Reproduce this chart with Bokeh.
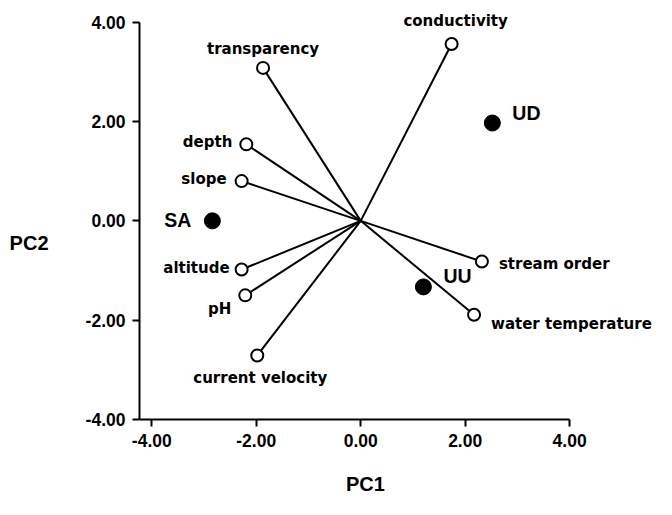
from bokeh.plotting import figure
from bokeh.models import Range1d, FixedTicker, NumeralTickFormatter, LinearAxis
from bokeh.core.properties import value
from bokeh.embed import file_html
from bokeh.resources import INLINE

# ---- data ----
variables = ["conductivity", "transparency", "depth", "slope", "altitude",
             "pH", "current velocity", "stream order", "water temperature"]
var_pc1 = [1.74, -1.87, -2.19, -2.28, -2.28, -2.21, -1.98, 2.32, 2.17]
var_pc2 = [3.56, 3.08, 1.54, 0.80, -0.98, -1.50, -2.71, -0.82, -1.89]

sites = ["UD", "SA", "UU"]
site_pc1 = [2.52, -2.84, 1.20]
site_pc2 = [1.97, 0.00, -1.33]

x_ticks = [-4, -2, 0, 2, 4]
y_ticks = [-4, -2, 0, 2, 4]
x_label = "PC1"
y_label = "PC2"

# ---- label placement (styling: pixel offsets from each point) ----
var_align = ["center", "center", "right", "right", "right", "right", "center", "left", "left"]
var_dx = [4, 0, -14, -15, -12, -14, 3, 17, 17]
var_dy = [-23, -19, -2, -2, -2, 14, 23, 2, 9]

site_align = ["left", "right", "left"]
site_dx = [20, -21, 20]
site_dy = [-10, -1, -11]

# where the axis titles sit (layout)
X_TITLE_AT = 0.09
Y_TITLE_AT = -0.44

TICK_FONT = "Liberation Sans"
LABEL_FONT = "DejaVu Sans"

p = figure(width=656, height=499,
           x_range=Range1d(-4.235, 5.663), y_range=Range1d(-4.0, 4.437),
           output_backend="svg", toolbar_location=None,
           min_border_left=139, min_border_bottom=80,
           min_border_top=0, min_border_right=0)
p.outline_line_color = None
p.xgrid.visible = False
p.ygrid.visible = False
p.background_fill_color = "white"
p.border_fill_color = "white"

for ax in (p.xaxis[0], p.yaxis[0]):
    ax.axis_line_width = 2
    ax.axis_line_color = "black"
    ax.major_tick_line_width = 2
    ax.major_tick_line_color = "black"
    ax.major_tick_in = 0
    ax.major_tick_out = 7
    ax.minor_tick_line_color = None
    ax.major_label_text_font = TICK_FONT
    ax.major_label_text_font_style = "bold"
    ax.major_label_text_font_size = "17.5px"
    ax.major_label_text_color = "black"
    ax.formatter = NumeralTickFormatter(format="0.00")

p.xaxis[0].ticker = FixedTicker(ticks=x_ticks)
p.yaxis[0].ticker = FixedTicker(ticks=y_ticks)
p.xaxis[0].bounds = (-4.235, 4)
p.yaxis[0].bounds = (-4, 4)
p.xaxis[0].major_label_standoff = 7
p.yaxis[0].major_label_standoff = 7

# axis titles, drawn as the single label of an extra, line-less axis
def title_axis(pos, text, standoff):
    a = LinearAxis(ticker=FixedTicker(ticks=[pos]),
                   major_label_overrides={pos: text},
                   axis_line_color=None, major_tick_line_color=None,
                   minor_tick_line_color=None, major_tick_out=0, major_tick_in=0,
                   major_label_standoff=standoff,
                   major_label_text_font=TICK_FONT,
                   major_label_text_font_style="bold",
                   major_label_text_font_size="20px",
                   major_label_text_color="black")
    return a

p.add_layout(title_axis(X_TITLE_AT, x_label, 23), "below")
p.add_layout(title_axis(Y_TITLE_AT, y_label, 34), "left")

# vectors
p.segment(x0=[0] * len(var_pc1), y0=[0] * len(var_pc2), x1=var_pc1, y1=var_pc2,
          line_color="black", line_width=2)
p.scatter(var_pc1, var_pc2, marker="circle", size=12, fill_color="white",
          line_color="black", line_width=2)
# sites
p.scatter(site_pc1, site_pc2, marker="circle", size=16, fill_color="black",
          line_color="black")

for name, x, y, al, dx, dy in zip(variables, var_pc1, var_pc2, var_align, var_dx, var_dy):
    p.text(x=[x], y=[y], text=[name], text_align=al, text_baseline="alphabetic",
           x_offset=dx, y_offset=dy, text_font=value(LABEL_FONT),
           text_font_style="bold", text_font_size="15px", text_color="black")

for name, x, y, al, dx, dy in zip(sites, site_pc1, site_pc2, site_align, site_dx, site_dy):
    p.text(x=[x], y=[y], text=[name], text_align=al, text_baseline="alphabetic",
           x_offset=dx, y_offset=dy, text_font=value(TICK_FONT),
           text_font_style="bold", text_font_size="19.5px", text_color="black")

open("out.html", "w").write(file_html(p, INLINE))
